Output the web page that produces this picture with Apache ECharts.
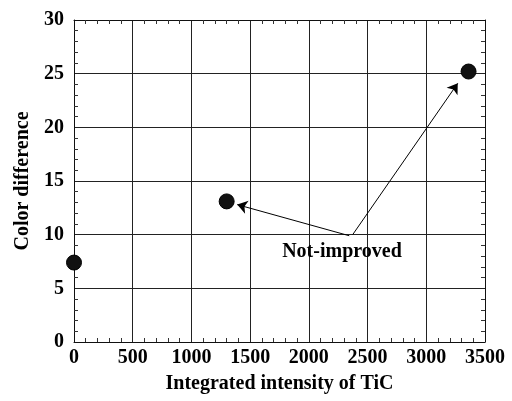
<!DOCTYPE html>
<html>
<head>
<meta charset="utf-8">
<script src="https://cdn.jsdelivr.net/npm/echarts@6/dist/echarts.min.js"></script>
<style>html,body{margin:0;padding:0;background:#fff;}#c{width:512px;height:401px;}</style>
</head>
<body>
<div id="c"></div>
<script>
var intensity = [0, 1300, 3360];
var colorDiff = [7.4, 13.1, 25.2];
var xTicks = [0, 500, 1000, 1500, 2000, 2500, 3000, 3500];
var yTicks = [0, 5, 10, 15, 20, 25, 30];
var noteLabel = 'Not-improved';
var noteAt = [2282, 8.4];
var arrowFrom = [[2344, 9.9], [2373, 10.0]];
var arrowTo = [[1390, 12.8], [3268, 24.1]];

var font = '"Liberation Serif", "Times New Roman", serif';
var points = intensity.map(function (x, i) { return [x, colorDiff[i]]; });

function axisBase(isX, showLabels) {
  var ticks = isX ? xTicks : yTicks;
  return {
    type: 'value',
    min: ticks[0], max: ticks[ticks.length - 1],
    interval: ticks[1] - ticks[0],
    axisLine: { show: true, onZero: false, lineStyle: { color: '#111', width: 1 } },
    axisTick: { show: false },
    minorTick: { show: true, splitNumber: 5, length: -4, lineStyle: { color: '#333', width: 1 } },
    splitLine: { show: showLabels, lineStyle: { color: '#222', width: 1 } },
    axisLabel: {
      show: showLabels, color: '#000', fontFamily: font, fontWeight: 'bold', fontSize: 20,
      margin: isX ? 6 : 10,
      formatter: function (v) { return String(v); }
    }
  };
}

var xBottom = axisBase(true, true);
xBottom.position = 'bottom';
xBottom.name = 'Integrated intensity of TiC';
xBottom.nameLocation = 'middle';
xBottom.nameGap = 32;
xBottom.nameTextStyle = { color: '#000', fontFamily: font, fontWeight: 'bold', fontSize: 20 };
var xTop = axisBase(true, false);
xTop.position = 'top';
var yLeft = axisBase(false, true);
yLeft.position = 'left';
yLeft.name = 'Color difference';
yLeft.nameLocation = 'middle';
yLeft.nameGap = 41;
yLeft.nameTextStyle = { color: '#000', fontFamily: font, fontWeight: 'bold', fontSize: 20 };
var yRight = axisBase(false, false);
yRight.position = 'right';

var chart = echarts.init(document.getElementById('c'));
chart.setOption({
  animation: false,
  backgroundColor: '#fff',
  grid: { left: 74, right: 27, top: 20, bottom: 59, containLabel: false },
  xAxis: [xBottom, xTop],
  yAxis: [yLeft, yRight],
  series: [{
    type: 'scatter',
    data: points,
    symbol: 'circle',
    symbolSize: 15,
    itemStyle: { color: '#111', borderColor: '#000', borderWidth: 1, opacity: 1 },
    markLine: {
      silent: true,
      symbol: ['none', 'arrow'],
      symbolSize: 10,
      label: { show: false },
      lineStyle: { color: '#000', width: 1, type: 'solid', opacity: 1 },
      data: arrowFrom.map(function (f, i) {
        return [{ coord: f }, { coord: arrowTo[i] }];
      })
    },
    markPoint: {
      silent: true,
      symbol: 'circle',
      symbolSize: 0,
      label: { show: true, position: 'inside', color: '#000', fontFamily: font, fontWeight: 'bold', fontSize: 20, formatter: noteLabel },
      data: [{ coord: noteAt }]
    }
  }]
});
</script>
</body>
</html>
